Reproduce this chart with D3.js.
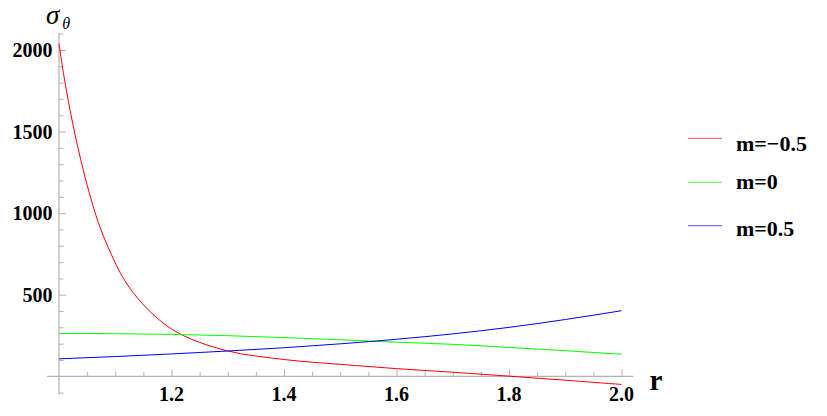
<!DOCTYPE html>
<html>
<head>
<meta charset="utf-8">
<script src="https://cdn.jsdelivr.net/npm/d3@7"></script>
<style>
  body { margin: 0; background: #fff; }
  svg { display: block; }
</style>
</head>
<body>
<div id="chart"></div>
<script>
// Set dimensions
const width = 827;
const height = 416;
const serif = "'Liberation Serif', 'Times New Roman', Times, serif";

// series
const rRed = [1.0, 1.0077, 1.0196, 1.0315, 1.0462, 1.061, 1.07, 1.0818, 1.1084, 1.132, 1.1707, 1.215, 1.298, 1.4, 1.5, 1.6, 1.7, 1.8, 1.9, 2.0];
const sRed = [2040, 1862, 1632, 1435, 1222, 1039, 942, 836, 638, 512, 368, 260, 157, 103, 73, 47, 25, 1, -24, -50];
const rSmooth = [1.0, 1.1, 1.2, 1.3, 1.4, 1.5, 1.6, 1.7, 1.8, 1.9, 2.0];
const sGreen = [263, 261, 257, 249, 237, 224, 209, 196, 177, 157, 135];
const sBlue = [107, 121, 137, 155, 175, 199, 227, 260, 300, 348, 402];

const legendLabels = ["m=\u22120.5", "m=0", "m=0.5"];
const colors = ["#ff0000", "#00ff00", "#0000ff"];

const xMajor = [1.2, 1.4, 1.6, 1.8, 2.0];
const xMinor = d3.range(1.05, 2.0, 0.05).filter(v => Math.abs(v * 5 - Math.round(v * 5)) > 1e-6);
const yMajor = [500, 1000, 1500, 2000];
const yMinor = d3.range(-100, 2101, 100).filter(v => v % 500 !== 0);

const series = [
  { r: rRed, s: sRed, curve: d3.curveCatmullRom.alpha(0.5) },
  { r: rSmooth, s: sGreen, curve: d3.curveMonotoneX },
  { r: rSmooth, s: sBlue, curve: d3.curveMonotoneX }
];

// scales
const x = d3.scaleLinear().domain([1, 2]).range([59, 621.5]);
const y = d3.scaleLinear().domain([0, 2000]).range([376.3, 50]);

const svg = d3.select("#chart")
  .append("svg")
  .attr("width", width)
  .attr("height", height);

const axisColor = "#b3b3b3";

// y axis ticks (pointing into the plot)
const yg = svg.append("g").attr("transform", `translate(${x(1)},0)`);
yg.call(d3.axisRight(y).tickValues(yMajor).tickSize(7).tickFormat(""));
yg.call(g => g.select(".domain").remove());
const ygm = svg.append("g").attr("transform", `translate(${x(1)},0)`);
ygm.call(d3.axisRight(y).tickValues(yMinor).tickSize(4.5).tickFormat(""));
ygm.call(g => g.select(".domain").remove());

// x axis ticks (pointing up)
const xg = svg.append("g").attr("transform", `translate(0,${y(0)})`);
xg.call(d3.axisTop(x).tickValues(xMajor).tickSize(7).tickFormat(""));
xg.call(g => g.select(".domain").remove());
const xgm = svg.append("g").attr("transform", `translate(0,${y(0)})`);
xgm.call(d3.axisTop(x).tickValues(xMinor).tickSize(4.5).tickFormat(""));
xgm.call(g => g.select(".domain").remove());

svg.selectAll(".tick line").attr("stroke", axisColor).attr("stroke-width", 1);

// axis lines
svg.append("line")
  .attr("x1", x(0.979)).attr("x2", x(2.021))
  .attr("y1", y(0)).attr("y2", y(0))
  .attr("stroke", axisColor).attr("stroke-width", 1.2);
svg.append("line")
  .attr("x1", x(1)).attr("x2", x(1))
  .attr("y1", y(2105)).attr("y2", y(-110))
  .attr("stroke", axisColor).attr("stroke-width", 1.2);

// tick labels
svg.selectAll("text.ylab")
  .data(yMajor)
  .enter()
  .append("text")
  .attr("class", "ylab")
  .attr("x", x(1) - 6.5)
  .attr("y", d => y(d) + 7)
  .attr("text-anchor", "end")
  .style("font-family", serif)
  .style("font-weight", "bold")
  .style("font-size", "20px")
  .text(d => d);

svg.selectAll("text.xlab")
  .data(xMajor)
  .enter()
  .append("text")
  .attr("class", "xlab")
  .attr("x", d => x(d))
  .attr("y", 400.5)
  .attr("text-anchor", "middle")
  .style("font-family", serif)
  .style("font-weight", "bold")
  .style("font-size", "20px")
  .text(d => d.toFixed(1));

// axis titles
const yt = svg.append("text")
  .attr("x", 46)
  .attr("y", 24)
  .style("font-family", serif)
  .style("font-style", "italic");
yt.append("tspan").style("font-size", "27px").text("\u03c3");
yt.append("tspan").attr("dx", 3).attr("dy", 5).style("font-size", "16px").text("\u03b8");

svg.append("text")
  .attr("x", 649.5)
  .attr("y", 390)
  .style("font-family", serif)
  .style("font-weight", "bold")
  .style("font-size", "29px")
  .text("r");

// curves
svg.selectAll("path.curve")
  .data(series)
  .enter()
  .append("path")
  .attr("class", "curve")
  .attr("fill", "none")
  .attr("stroke", (d, i) => colors[i])
  .attr("stroke-width", 1)
  .attr("d", d => d3.line()
    .x(p => x(p[0]))
    .y(p => y(p[1]))
    .curve(d.curve)(d.r.map((v, i) => [v, d.s[i]])));

// legend
const legLineY = [138.3, 182.3, 225.7];
const legTextY = [151, 189, 236];
const leg = svg.selectAll("g.leg")
  .data(legendLabels)
  .enter()
  .append("g")
  .attr("class", "leg");
leg.append("line")
  .attr("x1", 688).attr("x2", 722)
  .attr("y1", (d, i) => legLineY[i]).attr("y2", (d, i) => legLineY[i])
  .attr("stroke", (d, i) => colors[i])
  .attr("stroke-opacity", 0.55)
  .attr("stroke-width", 1.3);
leg.append("text")
  .attr("x", 736)
  .attr("y", (d, i) => legTextY[i])
  .style("font-family", serif)
  .style("font-weight", "bold")
  .style("font-size", "22px")
  .text(d => d);
</script>
</body>
</html>
